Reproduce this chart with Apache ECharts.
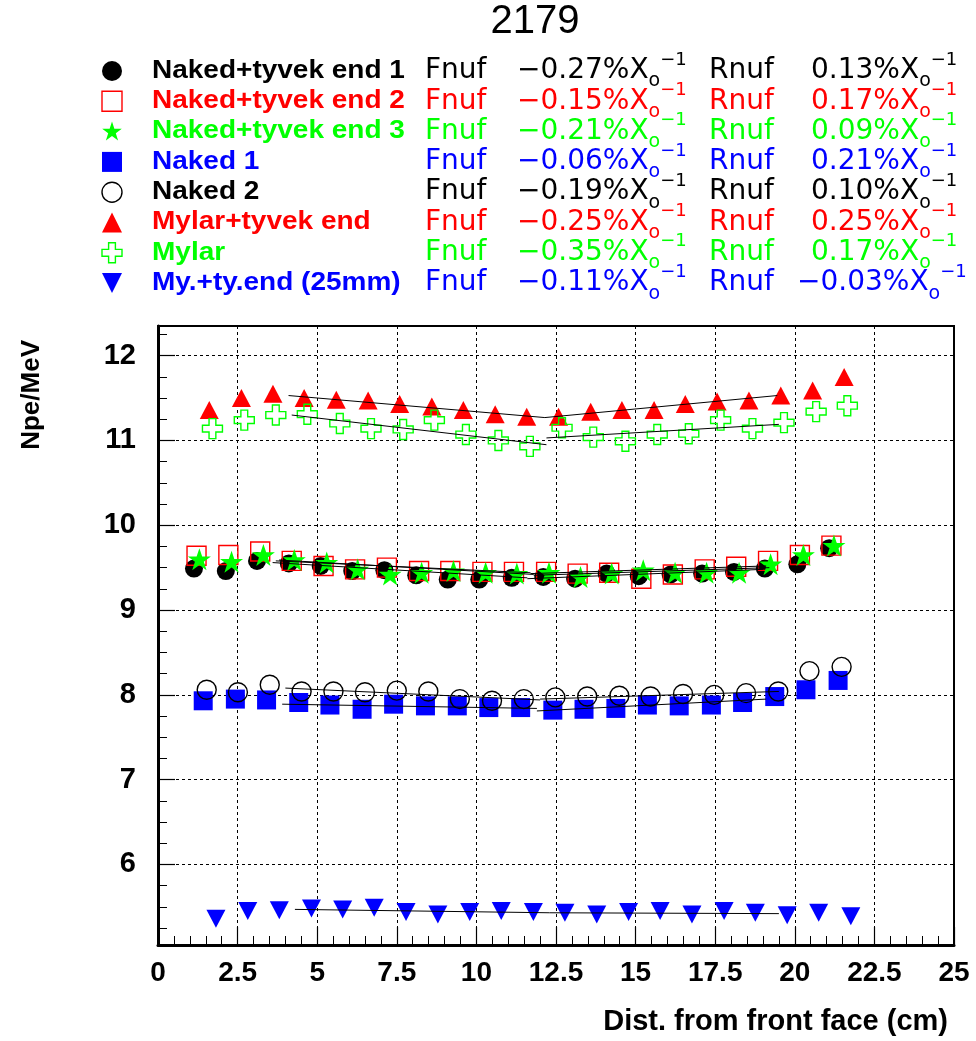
<!DOCTYPE html>
<html><head><meta charset="utf-8">
<script src="https://cdn.jsdelivr.net/npm/echarts@6/dist/echarts.min.js"></script>
<style>html,body{margin:0;padding:0;background:#fff}#c{width:976px;height:1041px}</style>
</head><body><div id="c"></div>
<script>
// ---------------- DATA ----------------
const chartTitle = '2179';
const xAxisTitle = 'Dist. from front face (cm)';
const yAxisTitle = 'Npe/MeV';
const yMajorTicks = [6, 7, 8, 9, 10, 11, 12];
const xRange = [0, 25];
const yRange = [5.05, 12.35];

const seriesNames = ['Naked+tyvek end 1','Naked+tyvek end 2','Naked+tyvek end 3','Naked 1','Naked 2','Mylar+tyvek end','Mylar','My.+ty.end (25mm)'];
const fnufValues = ['\u22120.27','\u22120.15','\u22120.21','\u22120.06','\u22120.19','\u22120.25','\u22120.35','\u22120.11'];
const rnufValues = ['0.13','0.17','0.09','0.21','0.10','0.25','0.17','\u22120.03'];

const end1X = [1.13,2.13,3.11,4.11,5.11,6.10,7.11,8.11,9.10,10.09,11.11,12.10,13.10,14.09,15.10,16.10,17.09,18.09,19.06,20.08,21.08];
const end1Y = [9.49,9.46,9.58,9.55,9.52,9.46,9.47,9.41,9.36,9.36,9.38,9.39,9.37,9.43,9.40,9.42,9.43,9.45,9.49,9.54,9.73];
const end2X = [1.21,2.21,3.21,4.20,5.20,6.19,7.19,8.20,9.18,10.19,11.18,12.19,13.18,14.17,15.18,16.17,17.17,18.16,19.16,20.16,21.15];
const end2Y = [9.64,9.65,9.69,9.58,9.52,9.48,9.50,9.46,9.46,9.45,9.45,9.45,9.43,9.44,9.37,9.42,9.48,9.51,9.58,9.65,9.76];
const end3X = [1.30,2.31,3.31,4.28,5.30,6.27,7.29,8.28,9.28,10.29,11.27,12.28,13.27,14.25,15.24,16.24,17.23,18.25,19.24,20.27,21.23];
const end3Y = [9.60,9.57,9.65,9.59,9.56,9.48,9.42,9.44,9.46,9.44,9.43,9.44,9.39,9.43,9.47,9.44,9.44,9.44,9.54,9.65,9.76];
const naked1X = [1.42,2.43,3.41,4.42,5.40,6.41,7.40,8.40,9.40,10.39,11.39,12.40,13.38,14.38,15.37,16.37,17.38,18.36,19.37,20.35,21.36];
const naked1Y = [7.93,7.95,7.94,7.91,7.88,7.83,7.89,7.87,7.87,7.85,7.85,7.82,7.83,7.84,7.88,7.87,7.88,7.91,7.98,8.06,8.17];
const naked2X = [1.53,2.51,3.51,4.51,5.51,6.50,7.50,8.49,9.48,10.49,11.49,12.48,13.48,14.49,15.47,16.49,17.47,18.47,19.48,20.46,21.47];
const naked2Y = [8.06,8.03,8.12,8.04,8.04,8.03,8.05,8.04,7.95,7.93,7.95,7.97,7.98,7.99,7.98,8.01,8.00,8.02,8.04,8.28,8.33];
const mylarTyvekX = [1.61,2.62,3.61,4.59,5.60,6.60,7.59,8.60,9.59,10.59,11.58,12.58,13.59,14.57,15.58,16.56,17.56,18.56,19.56,20.56,21.55];
const mylarTyvekY = [11.36,11.50,11.55,11.50,11.48,11.47,11.43,11.40,11.36,11.31,11.28,11.28,11.34,11.36,11.36,11.43,11.46,11.47,11.53,11.59,11.75];
const mylarX = [1.71,2.71,3.70,4.69,5.71,6.69,7.70,8.68,9.67,10.69,11.68,12.69,13.67,14.68,15.68,16.67,17.67,18.67,19.66,20.67,21.65];
const mylarY = [11.14,11.24,11.30,11.31,11.20,11.14,11.13,11.24,11.07,11.00,10.93,11.15,11.04,10.99,11.07,11.08,11.24,11.14,11.21,11.34,11.41];
const myty25X = [1.82,2.82,3.81,4.82,5.80,6.79,7.79,8.79,9.79,10.78,11.79,12.78,13.78,14.78,15.77,16.77,17.78,18.76,19.76,20.75,21.76];
const myty25Y = [5.36,5.45,5.46,5.48,5.47,5.49,5.44,5.41,5.44,5.45,5.44,5.43,5.41,5.44,5.45,5.41,5.45,5.43,5.40,5.43,5.39];

// fit segments: [xStart, yStart, xEnd, yEnd]
const fitFront = [
  [3.6, 9.56, 11.6, 9.38],
  [3.7, 9.58, 11.7, 9.44],
  [3.8, 9.59, 11.8, 9.42],
  [3.9, 7.89, 11.9, 7.84],
  [4.0, 8.08, 12.0, 7.94],
  [4.1, 11.53, 12.15, 11.27],
  [4.2, 11.30, 12.2, 10.95],
  [4.3, 5.47, 12.3, 5.43]
];
const fitRear = [
  [11.6, 9.37, 19.0, 9.48],
  [11.7, 9.43, 19.1, 9.52],
  [11.8, 9.41, 19.2, 9.50],
  [11.9, 7.81, 19.1, 7.95],
  [12.0, 7.95, 19.5, 8.04],
  [12.15, 11.27, 19.45, 11.53],
  [12.2, 11.03, 19.5, 11.19],
  [12.3, 5.43, 19.5, 5.42]
];

// ---------------- STYLE ----------------
const RED = '#ff0000', GREEN = '#00ff00', BLUE = '#0000ff', BLACK = '#000000';
const STAR_PTS = [[50,0],[61.8,36],[99,36],[69,58.5],[80.5,95],[50,72.5],[19.5,95],[31,58.5],[1,36],[38.2,36]];
const CROSS_PTS = [[33,0],[67,0],[67,33],[100,33],[100,67],[67,67],[67,100],[33,100],[33,67],[0,67],[0,33],[33,33]];
const INVTRI_PTS = [[0,0],[100,0],[50,100]];
const TRI_PTS = [[50,0],[100,100],[0,100]];
const toPath = pts => 'path://M' + pts.map(p => p[0] + ',' + p[1]).join(' L') + ' Z';

const xs = [end1X,end2X,end3X,naked1X,naked2X,mylarTyvekX,mylarX,myty25X];
const ys = [end1Y,end2Y,end3Y,naked1Y,naked2Y,mylarTyvekY,mylarY,myty25Y];
const colors = [BLACK, RED, GREEN, BLUE, BLACK, RED, GREEN, BLUE];
const markers = [
  {symbol:'circle', size:18, fill:BLACK, border:null},
  {symbol:'rect', size:19, fill:'rgba(0,0,0,0)', border:RED},
  {pts:STAR_PTS, size:[23,22], fill:GREEN, border:null},
  {symbol:'rect', size:19, fill:BLUE, border:null},
  {symbol:'circle', size:19, fill:'rgba(0,0,0,0)', border:BLACK},
  {pts:TRI_PTS, size:[19,18], fill:RED, border:null},
  {pts:CROSS_PTS, size:20, fill:'rgba(0,0,0,0)', border:GREEN},
  {pts:INVTRI_PTS, size:[19,18], fill:BLUE, border:null}
];

const FONT = '"Liberation Sans", Arial, Helvetica, sans-serif';
const FONT2 = '"DejaVu Sans", sans-serif';

const series = [];
for (let i = 0; i < xs.length; i++) {
  const m = markers[i];
  series.push({
    type: 'scatter', name: seriesNames[i],
    data: xs[i].map((x, k) => [x, ys[i][k]]),
    symbol: m.pts ? toPath(m.pts) : m.symbol, symbolSize: m.size,
    itemStyle: {color: m.fill, borderColor: m.border || m.fill, borderWidth: m.border ? 1.4 : 0, opacity: 1},
    emphasis: {disabled: true}, z: 3 + i
  });
}
for (let i = 0; i < fitFront.length; i++) {
  [fitFront[i], fitRear[i]].forEach(f => {
    series.push({
      type: 'line', data: [[f[0], f[1]], [f[2], f[3]]], symbol: 'none', silent: true,
      lineStyle: {color: '#000', width: 1}, z: 20
    });
  });
}

// ---------------- LEGEND / TEXT ----------------
const graphic = [];
graphic.push({type:'text', x:535, y:22, style:{text:chartTitle, font:'40px ' + FONT, fill:'#000', align:'center', verticalAlign:'middle'}});
graphic.push({type:'text', x:32, y:340, rotation:Math.PI/2, style:{text:yAxisTitle, font:'bold 26px ' + FONT, fill:'#000', align:'right', verticalAlign:'middle'}});
graphic.push({type:'text', x:948, y:1022, style:{text:xAxisTitle, font:'bold 29px ' + FONT, fill:'#000', align:'right', verticalAlign:'middle'}});

const rowY0 = 71, rowDY = 30.3;
const richStyle = (c) => ({
  v: {fontFamily: FONT2, fontSize: 28, lineHeight: 40, fill: c, color: c},
  sub: {fontFamily: FONT2, fontSize: 19, lineHeight: 19, verticalAlign: 'bottom', fill: c, color: c},
  sup: {fontFamily: FONT2, fontSize: 18, lineHeight: 18, verticalAlign: 'top', fill: c, color: c}
});
for (let i = 0; i < seriesNames.length; i++) {
  const y = rowY0 + rowDY * i;
  const c = colors[i];
  const m = markers[i];
  const mx = 112;
  if (m.symbol === 'circle') {
    graphic.push({type:'circle', shape:{cx:mx, cy:y, r:10}, style:{fill:m.fill, stroke:m.border || m.fill, lineWidth:m.border?1.4:0}});
  } else if (m.symbol === 'rect') {
    graphic.push({type:'rect', shape:{x:mx-10, y:y-10, width:20, height:20}, style:{fill:m.fill, stroke:m.border || m.fill, lineWidth:m.border?1.4:0}});
  } else {
    const w = 20, h = 20;
    const pts = m.pts.map(p => [mx - w/2 + p[0] * w / 100, y - h/2 + p[1] * h / 100]);
    graphic.push({type:'polygon', shape:{points:pts}, style:{fill:m.fill, stroke:m.border || m.fill, lineWidth:m.border?1.4:0}});
  }
  graphic.push({type:'text', x:152, y:y, scaleX:1.12, style:{text:seriesNames[i], font:'bold 25px ' + FONT, fill:c, align:'left', verticalAlign:'middle'}});
  graphic.push({type:'text', x:425, y:y, style:{text:'Fnuf', font:'28px ' + FONT2, fill:c, align:'left', verticalAlign:'middle'}});
  graphic.push({type:'text', x:517, y:y, style:{text:'{v|' + fnufValues[i] + '%X}{sub|o}{sup|\u22121}', rich:richStyle(c), fill:c, align:'left', verticalAlign:'middle'}});
  graphic.push({type:'text', x:709, y:y, style:{text:'Rnuf', font:'28px ' + FONT2, fill:c, align:'left', verticalAlign:'middle'}});
  const rx = rnufValues[i].charAt(0) === '\u2212' ? 797 : 811;
  graphic.push({type:'text', x:rx, y:y, style:{text:'{v|' + rnufValues[i] + '%X}{sub|o}{sup|\u22121}', rich:richStyle(c), fill:c, align:'left', verticalAlign:'middle'}});
}

// ---------------- AXES ----------------
const yMinorTicks = [];
for (let v = Math.ceil(yRange[0] * 4) / 4; v <= yRange[1] + 1e-9; v += 0.25) yMinorTicks.push(+v.toFixed(2));

const option = {
  animation: false,
  backgroundColor: '#fff',
  grid: {left: 158, right: 22, top: 326, bottom: 96, show: true, borderColor: '#000', borderWidth: 2, backgroundColor: 'rgba(0,0,0,0)'},
  xAxis: {
    type: 'value', min: xRange[0], max: xRange[1], interval: 2.5,
    axisLine: {show: true, onZero: false, lineStyle: {color: '#000', width: 3}},
    axisTick: {show: true, inside: true, length: 18, lineStyle: {color: '#000', width: 1.2}},
    minorTick: {show: true, splitNumber: 5, length: 9, lineStyle: {color: '#000', width: 1}},
    axisLabel: {fontFamily: FONT, fontWeight: 'bold', fontSize: 28, color: '#000', margin: 14, formatter: v => String(v)},
    splitLine: {show: true, lineStyle: {type: [3, 3], color: '#000', width: 1}}
  },
  yAxis: [
    {
      type: 'value', min: yRange[0], max: yRange[1], position: 'left',
      axisLine: {show: true, onZero: false, lineStyle: {color: '#000', width: 3}},
      axisTick: {show: true, inside: true, length: 9, customValues: yMinorTicks, lineStyle: {color: '#000', width: 1}},
      axisLabel: {show: false},
      splitLine: {show: false}
    },
    {
      type: 'value', min: yRange[0], max: yRange[1], position: 'left', offset: 0,
      axisLine: {show: false},
      axisTick: {show: true, inside: true, length: 17, customValues: yMajorTicks, lineStyle: {color: '#000', width: 1.2}},
      axisLabel: {show: true, customValues: yMajorTicks, fontFamily: FONT, fontWeight: 'bold', fontSize: 29, color: '#000', margin: 22, formatter: v => String(v)},
      splitLine: {show: true, lineStyle: {type: [3, 3], color: '#000', width: 1}}
    }
  ],
  series: series,
  graphic: graphic
};

const chart = echarts.init(document.getElementById('c'), null, {renderer: 'canvas'});
chart.setOption(option);
</script>
</body></html>
